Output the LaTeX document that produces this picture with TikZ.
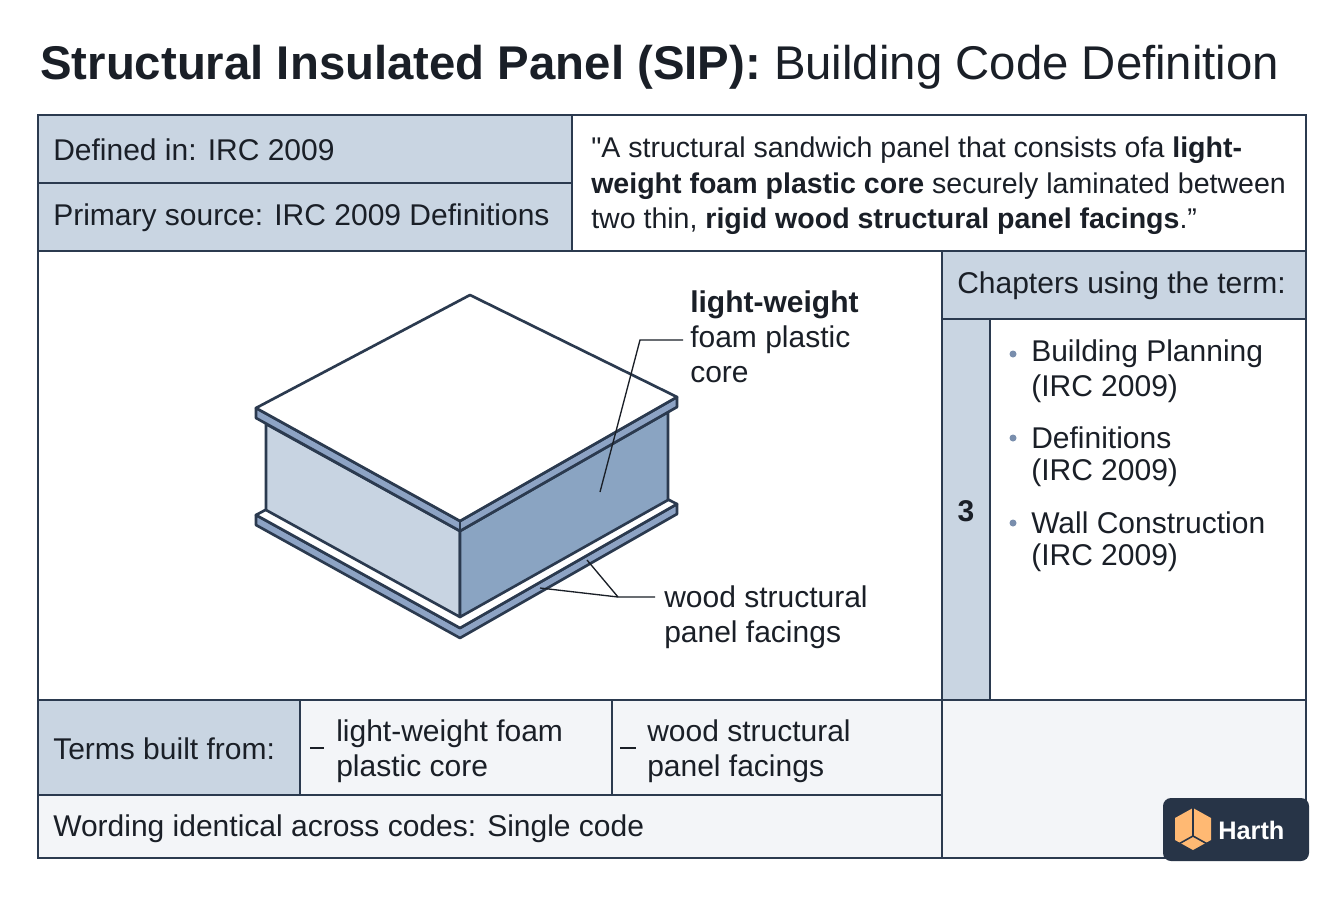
\documentclass[tikz,border=0pt]{standalone}
\usepackage{fontspec}
\setmainfont{Liberation Sans}
\begin{document}
\begin{tikzpicture}[x=0.75pt,y=-0.75pt,
  ln/.style={draw=navy,line width=1.5pt},
  sh/.style={fill=shade},
  lt/.style={fill=light},
  txt/.style={anchor=west,font=\fontsize{22.5}{26.5}\selectfont,text=ink,inner sep=0},
  lead/.style={draw=ink,line width=1pt},
  pl/.style={draw=navy,line width=2pt,line join=round}]
\definecolor{navy}{HTML}{2B3A4F}
\definecolor{ink}{HTML}{1A1F27}
\definecolor{shade}{HTML}{C9D5E2}
\definecolor{light}{HTML}{F3F5F8}
\definecolor{sideL}{HTML}{C8D4E2}
\definecolor{sideR}{HTML}{8AA4C2}
\definecolor{edge}{HTML}{8DA3C4}
\useasboundingbox (0,0) rectangle (1344,896);
\fill[white] (0,0) rectangle (1344,896);
\node[anchor=west,inner sep=0,font=\fontsize{35.5}{40}\selectfont,text=ink] (title) at (40,67) {\textbf{Structural Insulated Panel (SIP):} Building Code Definition};
% fills
\path[sh] (38,115) rectangle (572,251);
\path[sh] (942,251) rectangle (1306,319);
\path[sh] (942,319) rectangle (990,700);
\path[sh] (38,700) rectangle (300,795);
\path[lt] (300,700) rectangle (942,795);
\path[lt] (38,795) rectangle (942,858);
\path[lt] (942,700) rectangle (1306,858);
% grid
\draw[ln] (38,115) rectangle (1306,858);
\draw[ln] (38,183) -- (572,183);
\draw[ln] (572,115) -- (572,251);
\draw[ln] (38,251) -- (1306,251);
\draw[ln] (942,251) -- (942,858);
\draw[ln] (942,319) -- (1306,319);
\draw[ln] (990,319) -- (990,700);
\draw[ln] (38,700) -- (1306,700);
\draw[ln] (38,795) -- (942,795);
\draw[ln] (300,700) -- (300,795);
\draw[ln] (612,700) -- (612,795);
% texts
\node[txt] (def) at (53,150) {Defined in: IRC 2009};
\node[txt] (src) at (53,218) {Primary source: IRC 2009 Definitions};
\node[txt,anchor=north west,align=left,font=\fontsize{21.4}{26.5}\selectfont] (quote) at (591,137) {\textquotedbl A structural sandwich panel that consists ofa \textbf{light-}\\\textbf{weight foam plastic core} securely laminated between\\two thin, \textbf{rigid wood structural panel facings}.”};
\node[txt] (chh) at (957,286) {Chapters using the term:};
\node[txt,anchor=center,font=\fontsize{22.5}{26.5}\selectfont\bfseries] (three) at (966,511) {3};
\foreach \y/\a/\b in {354/Building Planning/(IRC 2009),438/Definitions/(IRC 2009),523/Wall Construction/(IRC 2009)}{
  \fill[edge!80!navy] (1013,\y) circle (3.5);
  \node[txt] at (1031,\y) {\a};
  \node[txt] at (1031,\y+35) {\b};
}
\node[txt] (tb) at (53,749) {Terms built from:};
\draw[lead] (310,748) -- (324,748);
\node[txt,anchor=north west,align=left] (t1) at (336,719) {light-weight foam\\plastic core};
\draw[lead] (620,748) -- (636,748);
\node[txt,anchor=north west,align=left] (t2) at (647,719) {wood structural\\panel facings};
\node[txt] (wi) at (53,829) {Wording identical across codes: Single code};
% panel drawing
\path[pl,fill=edge] (256,515) -- (460,628) -- (677,504) -- (677,514) -- (460,638) -- (256,525) -- cycle;
\path[pl,fill=white] (256,515) -- (470,400) -- (677,504) -- (460,628) -- cycle;
\path[pl,fill=sideL] (266,424) -- (460,531) -- (460,617) -- (266,510) -- cycle;
\path[pl,fill=sideR] (460,531) -- (668,412) -- (668,500) -- (460,617) -- cycle;
\path[pl,fill=edge] (256,408) -- (460,521) -- (677,397) -- (677,407) -- (460,531) -- (256,418) -- cycle;
\path[pl,fill=white] (470,295) -- (677,397) -- (460,521) -- (256,408) -- cycle;
\draw[pl] (460,521) -- (460,531);
% labels
\node[txt,anchor=north west,align=left] (core) at (690,290) {\textbf{light-weight}\\foam plastic\\core};
\coordinate (c1) at (640,340);
\draw[lead] (600,492) -- (c1) -- (683,340);
\node[txt,anchor=north west,align=left] (fac) at (664,585) {wood structural\\panel facings};
\coordinate (f1) at (618,597);
\draw[lead] (540,588) -- (f1) -- (655,597);
\draw[lead] (587,560) -- (f1);
% logo
\path[fill=navy!90!black,rounded corners=6] (1163,798) rectangle (1309,861);
\fill[orange!55!white] (1193,808) -- (1211,818) -- (1211,840) -- (1193,850) -- (1175,840) -- (1175,818) -- cycle;
\draw[navy!90!black,line width=1.2pt] (1193,808) -- (1193,836) -- (1175,846) (1193,836) -- (1211,846);
\node[anchor=west,inner sep=0,font=\fontsize{19}{22}\selectfont\bfseries,text=white] (logo) at (1218,830) {Harth};
\end{tikzpicture}
\end{document}
